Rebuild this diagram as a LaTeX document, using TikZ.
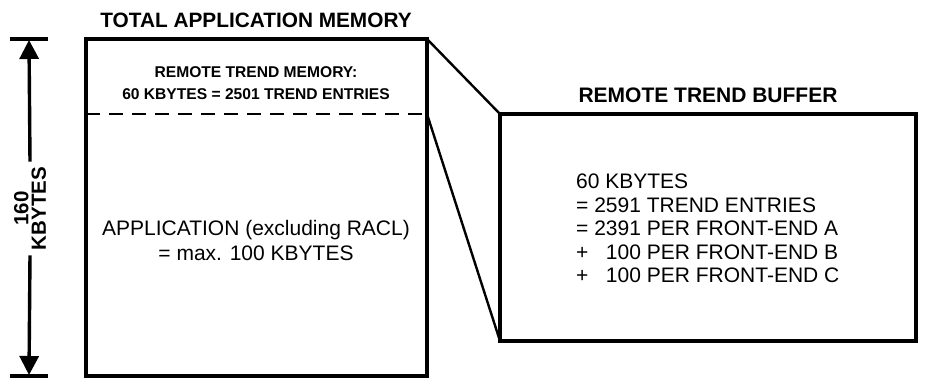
\documentclass[tikz,border=0pt]{standalone}
\usepackage{fontspec}
\setmainfont{Liberation Sans}
\usetikzlibrary{arrows.meta}
\begin{document}
\begin{tikzpicture}[x=1pt,y=-1pt,
  boxline/.style={draw, line width=3.2pt, inner sep=0pt, outer sep=0pt},
  link/.style={line width=2.4pt},
  dimline/.style={line width=3.4pt},
  dimarrow/.style={dimline, -{Triangle[length=19pt,width=19pt]}, shorten >=1pt},
  titletext/.style={font=\bfseries\fontsize{20.8}{24}\selectfont, inner sep=0pt},
  bodytext/.style={font=\fontsize{21}{24.5}\selectfont, inner sep=0pt},
  smallbold/.style={font=\bfseries\fontsize{15.6}{22}\selectfont, inner sep=0pt, align=center}
]
\useasboundingbox (0,0) rectangle (925,379);

% left box
\node[boxline, minimum width=341pt, minimum height=337pt] (mem) at (256.5,207.5) {};
\node[titletext] (memtitle) at (256,20) {TOTAL APPLICATION MEMORY};
\node[smallbold] (rtm) at (256,83.5) {REMOTE TREND MEMORY:\\60 KBYTES = 2501 TREND ENTRIES};
\coordinate (dashL) at (mem.west |- 0,114);
\coordinate (dashR) at (mem.east |- 0,114);
\draw[line width=2.8pt, dash pattern=on 14pt off 9pt] (dashL) -- (dashR);
\node[bodytext, align=center] (app) at (256,240.5) {APPLICATION (excluding RACL)\\= max. 100 KBYTES};

% right box
\node[boxline, minimum width=416pt, minimum height=227pt] (buf) at (708,227.5) {};
\node[titletext, font=\bfseries\fontsize{21}{24}\selectfont] (buftitle) at (708,95) {REMOTE TREND BUFFER};
\node[bodytext, align=left, anchor=west, font=\fontsize{21}{23.5}\selectfont] (bufinfo) at (576,228.5)
  {60 KBYTES\\= 2591 TREND ENTRIES\\= 2391 PER FRONT-END A\\+ \phantom{2}100 PER FRONT-END B\\+ \phantom{2}100 PER FRONT-END C};

% connectors
\draw[link] (mem.north east) -- (buf.north west);
\draw[link] (dashR) -- (buf.south west);

% dimension arrow
\coordinate (dimtop) at (29,39);
\coordinate (dimbot) at (29,376);
\coordinate (bartopL) at (10,39);
\coordinate (bartopR) at (48,39);
\coordinate (barbotL) at (10,376);
\coordinate (barbotR) at (48,376);
\draw[dimline] (bartopL) -- (bartopR);
\draw[dimline] (barbotL) -- (barbotR);
\node[rotate=90, align=center, inner sep=5pt, font=\bfseries\fontsize{20.5}{17.5}\selectfont] (dimlbl) at (30,208.5) {160\\KBYTES};
\draw[dimarrow] (dimlbl.east) -- (dimtop);
\draw[dimarrow] (dimlbl.west) -- (dimbot);
\end{tikzpicture}
\end{document}
